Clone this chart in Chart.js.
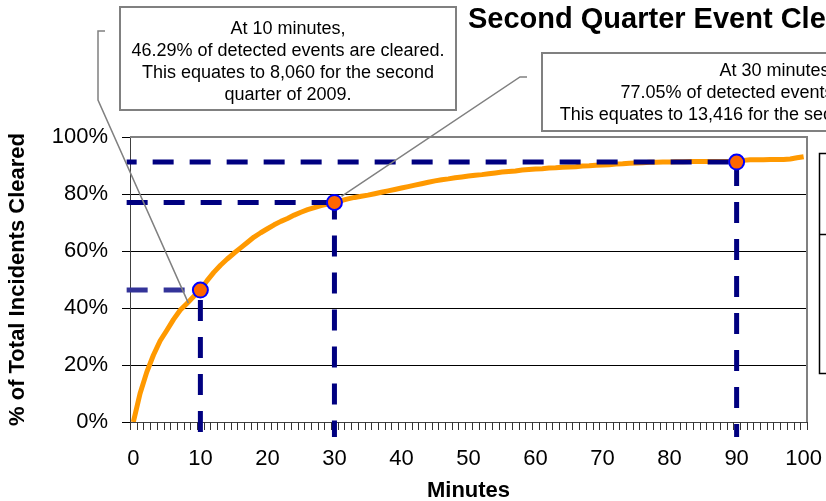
<!DOCTYPE html>
<html>
<head>
<meta charset="utf-8">
<title>Second Quarter Event Clearance</title>
<script src="https://cdn.jsdelivr.net/npm/chart.js@4.4.1/dist/chart.umd.min.js"></script>
<style>
  html, body { margin: 0; padding: 0; background: #fff; }
  canvas { display: block; }
</style>
</head>
<body>
<canvas id="clearChart" width="826" height="501"></canvas>
<script>
// minutes after detection (categories)
const minutes = [
  0, 1, 2, 3, 4, 5, 6, 7, 8, 9, 10, 11, 12, 13, 14, 15, 16, 17, 18, 19,
  20, 21, 22, 23, 24, 25, 26, 27, 28, 29, 30, 31, 32, 33, 34, 35, 36, 37, 38, 39,
  40, 41, 42, 43, 44, 45, 46, 47, 48, 49, 50, 51, 52, 53, 54, 55, 56, 57, 58, 59,
  60, 61, 62, 63, 64, 65, 66, 67, 68, 69, 70, 71, 72, 73, 74, 75, 76, 77, 78, 79,
  80, 81, 82, 83, 84, 85, 86, 87, 88, 89, 90, 91, 92, 93, 94, 95, 96, 97, 98, 99, 100
];

// cumulative % of incidents cleared
const clearedPct = [
  0, 10, 17.5, 23.5, 28.5, 32.2, 36, 39.3, 41.6, 44,
  46.3, 49.6, 52.5, 55, 57.2, 59.2, 61.1, 63, 64.9, 66.4,
  67.8, 69.2, 70.4, 71.4, 72.6, 73.6, 74.5, 75.2, 75.9, 76.5,
  77.05, 77.7, 78.3, 78.8, 79.2, 79.6, 80.1, 80.6, 81.1, 81.6,
  82.1, 82.6, 83.1, 83.6, 84.1, 84.6, 85.0, 85.3, 85.7, 86.0,
  86.3, 86.6, 86.8, 87.1, 87.4, 87.7, 87.9, 88.1, 88.4, 88.6,
  88.8, 88.9, 89.1, 89.2, 89.4, 89.5, 89.6, 89.8, 89.9, 90.1,
  90.2, 90.3, 90.5, 90.6, 90.8, 90.9, 91.0, 91.1, 91.1, 91.2,
  91.2, 91.3, 91.3, 91.4, 91.4, 91.4, 91.4, 91.4, 91.4, 91.4,
  91.4, 91.8, 92.0, 92.0, 92.0, 92.1, 92.1, 92.1, 92.3, 92.7, 93.1
];

// highlighted points
const markerMinutes = [10, 30, 90];
const markerPct = [46.29, 77.05, 91.2];

const yTicks = [0, 20, 40, 60, 80, 100];
const xTicks = [0, 10, 20, 30, 40, 50, 60, 70, 80, 90, 100];

const callout1 = ['At 10 minutes,', '46.29% of detected events are cleared.',
  'This equates to 8,060 for the second', 'quarter of 2009.'];
const callout2 = ['At 30 minutes,', '77.05% of detected events are cleared.',
  'This equates to 13,416 for the second quarter of 2009.'];

const FONT = '"Liberation Sans", Arial, sans-serif';
const NAVY = '#000080';
const lineStart = -1;   // dashed guides start just left of the axis
const lineDrop = -5.3;  // and drop a little below it

const guideBase = {
  borderWidth: 5, borderDash: [21, 16], borderCapStyle: 'butt',
  pointRadius: 0, fill: false, clip: false, tension: 0
};
const guideColors = ['#333399', NAVY, NAVY];
const hDashOffsets = [0, 0, 11];
const vDashOffsets = [27, 4, 34];

const guides = [];
markerMinutes.forEach((m, i) => {
  guides.push(Object.assign({}, guideBase, {
    borderColor: guideColors[i],
    borderDashOffset: hDashOffsets[i],
    data: [{ x: lineStart, y: markerPct[i] }, { x: m, y: markerPct[i] }]
  }));
  guides.push(Object.assign({}, guideBase, {
    borderColor: NAVY,
    borderDashOffset: vDashOffsets[i],
    data: [{ x: m, y: markerPct[i] }, { x: m, y: lineDrop }]
  }));
});

const decorations = {
  id: 'decorations',
  beforeDatasetsDraw(chart) {
    const { ctx, chartArea: a, scales: { x } } = chart;
    ctx.save();
    // top / right frame of plot area
    ctx.strokeStyle = '#808080';
    ctx.lineWidth = 2;
    ctx.beginPath();
    ctx.moveTo(a.left, a.top);
    ctx.lineTo(a.right, a.top);
    ctx.lineTo(a.right, a.bottom);
    ctx.stroke();
    // minor ticks between minutes
    ctx.strokeStyle = '#333';
    ctx.lineWidth = 1;
    ctx.beginPath();
    const bounds = minutes.map(m => m - 0.5).concat([minutes[minutes.length - 1] + 0.5]);
    bounds.forEach(b => {
      const px = Math.round(x.getPixelForValue(b)) + 0.5;
      ctx.moveTo(px, a.bottom);
      ctx.lineTo(px, a.bottom + 8);
    });
    ctx.stroke();
    ctx.restore();
  },
  afterDraw(chart) {
    const { ctx, scales: { x, y } } = chart;
    ctx.save();

    // title
    ctx.fillStyle = '#000';
    ctx.font = 'bold 29px ' + FONT;
    ctx.textAlign = 'left';
    ctx.textBaseline = 'alphabetic';
    ctx.fillText('Second Quarter Event Clearance Times', 468, 28);

    // legend box (mostly outside the picture)
    ctx.strokeStyle = '#000';
    ctx.lineWidth = 1.5;
    ctx.strokeRect(819.5, 153.5, 40, 220);
    ctx.beginPath();
    ctx.moveTo(819, 234.5);
    ctx.lineTo(826, 234.5);
    ctx.stroke();

    const drawCallout = (box, lines, stub, idx, off) => {
      ctx.strokeStyle = '#808080';
      ctx.lineWidth = 1.5;
      ctx.beginPath();
      ctx.moveTo(stub[0][0], stub[0][1]);
      stub.slice(1).forEach(p => ctx.lineTo(p[0], p[1]));
      ctx.lineTo(x.getPixelForValue(markerMinutes[idx]) + off[0],
                 y.getPixelForValue(markerPct[idx]) + off[1]);
      ctx.stroke();

      ctx.fillStyle = '#fff';
      ctx.fillRect(box.left, box.top, box.right - box.left, box.bottom - box.top);
      ctx.strokeStyle = '#808080';
      ctx.lineWidth = 2;
      ctx.strokeRect(box.left, box.top, box.right - box.left, box.bottom - box.top);

      ctx.fillStyle = '#000';
      ctx.font = '18px ' + FONT;
      ctx.textAlign = 'center';
      lines.forEach((t, i) => ctx.fillText(t, box.cx, box.base + i * 22.2));
    };

    drawCallout({ left: 120, top: 7, right: 456, bottom: 110, cx: 288, base: 33.5 },
      callout1, [[105, 31], [98, 31], [98, 100]], 0, [-12, 13]);
    drawCallout({ left: 542, top: 53, right: 1012, bottom: 131, cx: 777, base: 75.5 },
      callout2, [[527, 77], [520, 77]], 1, [7, -6]);

    ctx.restore();
  }
};

const ctx = document.getElementById('clearChart').getContext('2d');

new Chart(ctx, {
  type: 'line',
  data: {
    datasets: [
      {
        label: 'Marked points',
        data: markerMinutes.map((m, i) => ({ x: m, y: markerPct[i] })),
        showLine: false,
        pointRadius: 7.5,
        pointBorderWidth: 2,
        pointBackgroundColor: '#FF6600',
        pointBorderColor: '#0000FF',
        clip: false
      },
      ...guides,
      {
        label: '% Cleared',
        data: minutes.map((m, i) => ({ x: m, y: clearedPct[i] })),
        borderColor: '#FF9900',
        borderWidth: 5,
        borderJoinStyle: 'round',
        pointRadius: 0,
        fill: false,
        tension: 0
      }
    ]
  },
  options: {
    responsive: false,
    animation: false,
    events: [],
    layout: { autoPadding: false, padding: { top: 137, right: 19, left: 0, bottom: 0 } },
    plugins: {
      legend: { display: false },
      tooltip: { enabled: false }
    },
    scales: {
      x: {
        type: 'linear',
        min: -0.5,
        max: 100.5,
        afterBuildTicks: (scale) => { scale.ticks = xTicks.map(v => ({ value: v })); },
        afterFit: (scale) => {
          scale.height = 79;
          scale.paddingLeft = 0;
          scale.paddingRight = 0;
        },
        grid: { display: false },
        border: { display: true, color: '#404040', width: 1 },
        ticks: {
          autoSkip: false, maxRotation: 0, padding: 16,
          color: '#000', font: { family: FONT, size: 22 }
        },
        title: {
          display: true, text: 'Minutes', color: '#000', padding: 0,
          font: { family: FONT, size: 22, weight: 'bold', lineHeight: 0.9 }
        }
      },
      y: {
        min: 0,
        max: 100,
        afterBuildTicks: (scale) => { scale.ticks = yTicks.map(v => ({ value: v })); },
        afterFit: (scale) => { scale.width = 130; },
        grid: {
          color: (c) => (c.tick && (c.tick.value === 0 || c.tick.value === 100)) ? 'rgba(0,0,0,0)' : '#000',
          tickColor: '#000',
          tickLength: 8,
          lineWidth: 1
        },
        border: { display: true, color: '#404040', width: 1 },
        ticks: {
          padding: 14, color: '#000',
          font: { family: FONT, size: 22 },
          callback: (v) => v + '%'
        },
        title: {
          display: true, text: '% of Total Incidents Cleared', color: '#000',
          padding: { top: 5, bottom: 0 },
          font: { family: FONT, size: 22, weight: 'bold', lineHeight: 1.2 }
        }
      }
    }
  },
  plugins: [decorations]
});
</script>
</body>
</html>
